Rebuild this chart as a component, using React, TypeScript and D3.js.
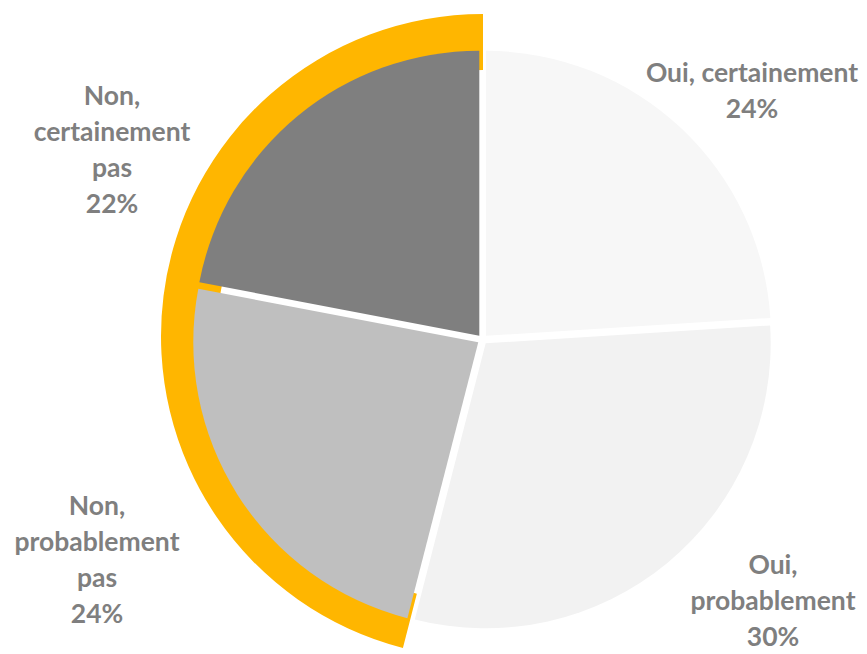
import React, { useEffect, useRef } from 'react';
import * as d3 from 'd3';

const categories = ['Oui, certainement', 'Oui, probablement', 'Non, probablement pas', 'Non, certainement pas'];
const values = [24, 30, 24, 22];
const labelLines = [
  ['Oui, certainement', '24%'],
  ['Oui,', 'probablement', '30%'],
  ['Non,', 'probablement', 'pas', '24%'],
  ['Non,', 'certainement', 'pas', '22%'],
];
const sliceColors = ['#F7F7F7', '#F2F2F2', '#BFBFBF', '#7F7F7F'];
// the "Non" answers are highlighted with an outer ring
const highlighted = ['Non, probablement pas', 'Non, certainement pas'];

const App: React.FC = () => {
  const svgRef = useRef<SVGSVGElement>(null);

  useEffect(() => {
    if (!svgRef.current) return;
    const width = 867;
    const height = 654;
    const cx = 482.5;
    const cy = 339.5;
    const radius = 285;
    const explode = 5;

    const svg = d3.select(svgRef.current);
    svg.selectAll('*').remove();
    svg.attr('width', width).attr('height', height);

    const data = categories.map((c, i) => ({ name: c, value: values[i], lines: labelLines[i], color: sliceColors[i] }));
    const pie = d3.pie<typeof data[number]>().sort(null).value(d => d.value);
    const arcs = pie(data);

    // highlight ring behind the slices
    const hi = arcs.filter(a => highlighted.includes(a.data.name));
    const ring = d3.arc<any>().innerRadius(266).outerRadius(322);
    svg.append('path')
      .attr('transform', `translate(483,336)`)
      .attr('d', ring({ startAngle: d3.min(hi, a => a.startAngle), endAngle: d3.max(hi, a => a.endAngle) }))
      .attr('fill', '#FFB600');

    const arc = d3.arc<d3.PieArcDatum<typeof data[number]>>().innerRadius(0).outerRadius(radius);

    svg.selectAll('.slice')
      .data(arcs)
      .enter()
      .append('path')
      .attr('class', 'slice')
      .attr('transform', d => {
        const mid = (d.startAngle + d.endAngle) / 2;
        return `translate(${cx + explode * Math.sin(mid)},${cy - explode * Math.cos(mid)})`;
      })
      .attr('d', arc)
      .attr('fill', d => d.data.color);

    // labels
    const labelPos = [
      { x: 752, y: 82 },
      { x: 773, y: 574 },
      { x: 97, y: 515 },
      { x: 112, y: 105 },
    ];
    const lineH = 36;
    const g = svg.append('g');
    arcs.forEach((a, i) => {
      const t = g.append('text')
        .attr('x', labelPos[i].x)
        .attr('y', labelPos[i].y)
        .attr('text-anchor', 'middle')
        .style('font-family', 'Lato, "Open Sans", sans-serif')
        .style('font-weight', 'bold')
        .style('font-size', '26.5px')
        .style('fill', '#7F7F7F');
      a.data.lines.forEach((l, j) => {
        t.append('tspan')
          .attr('x', labelPos[i].x)
          .attr('dy', j === 0 ? 0 : lineH)
          .text(l);
      });
    });
  }, []);

  return (
    <svg ref={svgRef} style={{ position: 'absolute', left: 0, top: 0, display: 'block' }} />
  );
};

export default App;
